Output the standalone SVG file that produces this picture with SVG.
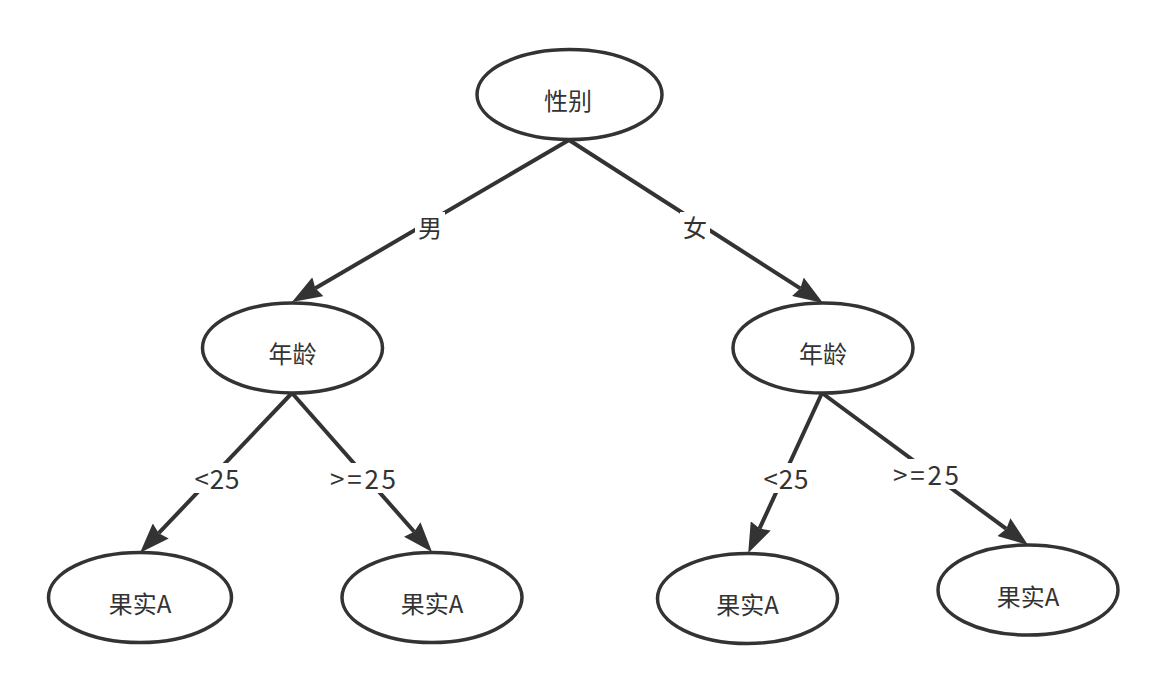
<svg xmlns="http://www.w3.org/2000/svg" width="1168" height="694" viewBox="0 0 1168 694">
<style>
.node ellipse{fill:#fff;stroke:#333;stroke-width:3.5}
.node text{font-family:"Noto Sans CJK SC","Noto Sans",sans-serif;font-size:24px;fill:#333;text-anchor:middle;dominant-baseline:central}
.edge line{stroke:#333;stroke-width:4;fill:none}
.lbl rect{fill:#fff}
.lbl text{font-family:"Noto Sans CJK SC","Noto Sans",sans-serif;font-size:24px;fill:#333;text-anchor:middle;dominant-baseline:central}
.lbl text.num{font-size:26px}
</style>
<defs>
<marker id="arr" viewBox="0 0 30 22" refX="3" refY="11" markerWidth="30" markerHeight="22" markerUnits="userSpaceOnUse" orient="auto">
<path d="M0,0 L30,11 L0,22 L3,11 z" fill="#333"/>
</marker>
</defs>
<rect width="1168" height="694" fill="#fff"/>
<g id="connectors">
<g class="edge">
<line x1="569" y1="140" x2="315.3" y2="288.3" marker-end="url(#arr)"/>
<line x1="569" y1="140" x2="800.3" y2="288.4" marker-end="url(#arr)"/>
<line x1="292" y1="393" x2="158.7" y2="533.2" marker-end="url(#arr)"/>
<line x1="292" y1="393" x2="414.2" y2="531.7" marker-end="url(#arr)"/>
<line x1="822" y1="393" x2="759.5" y2="528.6" marker-end="url(#arr)"/>
<line x1="822" y1="393" x2="1006.3" y2="528.9" marker-end="url(#arr)"/>
</g>
<g class="lbl">
<rect x="415" y="212" width="30" height="30"/>
<text x="430" y="226">男</text>
<rect x="680" y="212" width="30" height="30"/>
<text x="695" y="226">女</text>
<rect x="191" y="463" width="52" height="30"/>
<text class="num" x="217" y="477" textLength="45" lengthAdjust="spacing">&lt;25</text>
<rect x="327" y="463" width="72" height="30"/>
<text class="num" x="363" y="477" textLength="66" lengthAdjust="spacing">&gt;=25</text>
<rect x="760" y="463" width="52" height="30"/>
<text class="num" x="786" y="477" textLength="45" lengthAdjust="spacing">&lt;25</text>
<rect x="890" y="459" width="72" height="30"/>
<text class="num" x="926" y="473" textLength="66" lengthAdjust="spacing">&gt;=25</text>
</g>
</g>
<g id="n-gender" class="node"><ellipse cx="569.5" cy="94.5" rx="92.5" ry="45"/><text x="568" y="99">性别</text></g>
<g id="n-age-l" class="node"><ellipse cx="292.5" cy="348" rx="90" ry="45"/><text x="292.5" y="352">年龄</text></g>
<g id="n-age-r" class="node"><ellipse cx="823" cy="348" rx="90" ry="45"/><text x="823" y="352">年龄</text></g>
<g id="n-a1" class="node"><ellipse cx="140" cy="597.5" rx="91.5" ry="45"/><text x="140" y="602">果实A</text></g>
<g id="n-a2" class="node"><ellipse cx="432" cy="597.5" rx="90" ry="45"/><text x="432" y="602">果实A</text></g>
<g id="n-a3" class="node"><ellipse cx="747.5" cy="598.5" rx="90" ry="45"/><text x="747.5" y="603">果实A</text></g>
<g id="n-a4" class="node"><ellipse cx="1028" cy="590" rx="90" ry="45"/><text x="1028" y="595">果实A</text></g>
</svg>
